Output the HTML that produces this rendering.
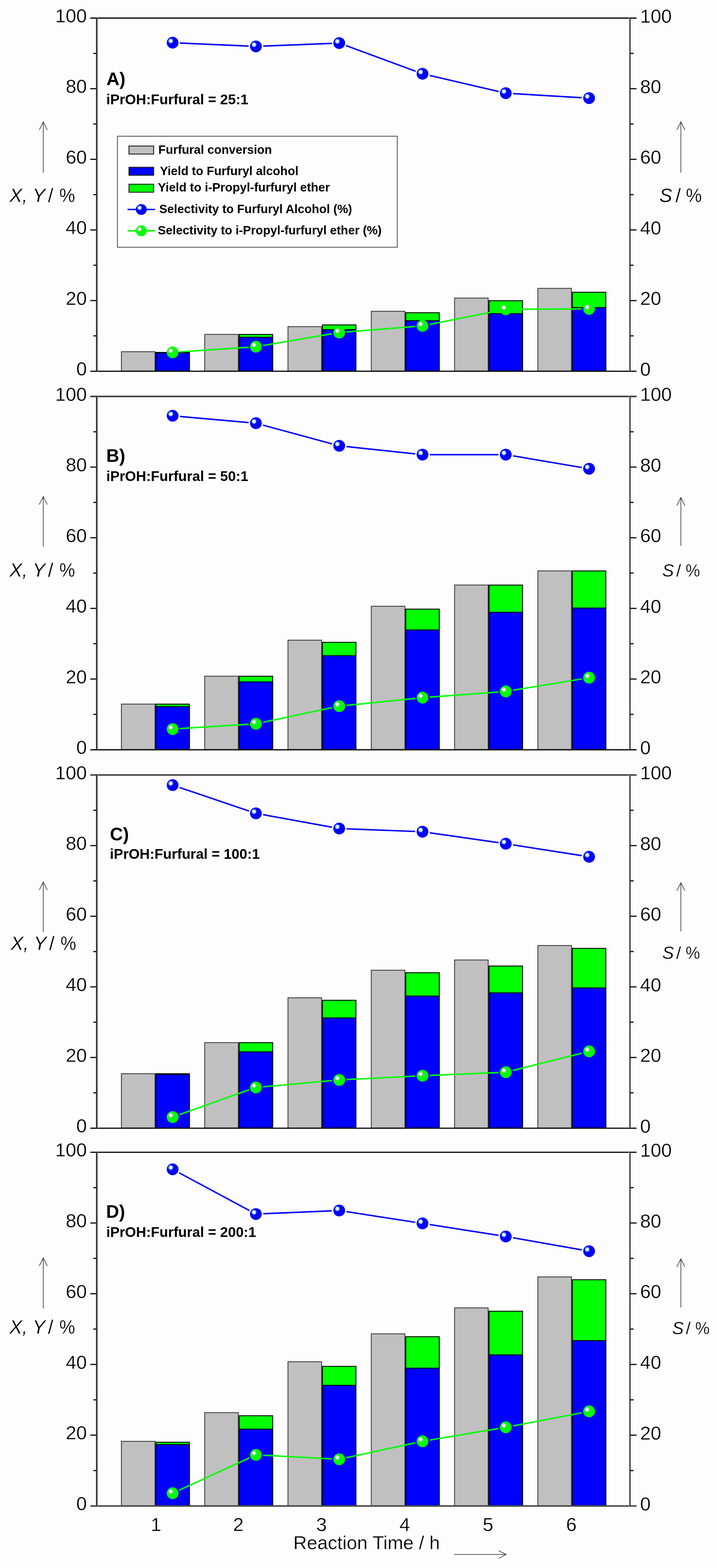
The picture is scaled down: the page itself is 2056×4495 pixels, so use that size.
<!DOCTYPE html>
<html lang="en">
<head>
<meta charset="utf-8">
<title>Furfural conversion, yields and selectivities vs reaction time</title>
<style>
html,body{margin:0;padding:0;background:#fdfdfd;}
body{width:2056px;height:4495px;overflow:hidden;}
svg{display:block;}
text{font-family:"Liberation Sans",sans-serif;fill:#000;}
.tk{font-size:54.5px;stroke:#fdfdfd;stroke-width:0.5px;}
.lg{font-size:34.6px;font-weight:bold;}
.tag{font-size:51.5px;font-weight:bold;}
.sub{font-size:40.4px;font-weight:bold;}
.axl{font-size:55px;stroke:#fdfdfd;stroke-width:0.5px;}
.it{font-style:italic;}
.ax{stroke:#101010;fill:none;}
.bar{stroke:#000;stroke-width:2.6;}
.bl{stroke:#0000ff;stroke-width:4.2;fill:none;}
.gl{stroke:#00ff00;stroke-width:4.2;fill:none;}
.arr{stroke:#444;stroke-width:2;fill:none;}
</style>
</head>
<body>
<svg width="2056" height="4495" viewBox="0 0 2056 4495">
<defs>
<radialGradient id="gb" cx="0.34" cy="0.35" r="0.23">
<stop offset="0" stop-color="#ffffff"/><stop offset="0.35" stop-color="#eefafa"/><stop offset="0.7" stop-color="#8cc4dc"/><stop offset="1" stop-color="#0000ff"/>
</radialGradient>
<radialGradient id="gg" cx="0.34" cy="0.35" r="0.23">
<stop offset="0" stop-color="#ffffff"/><stop offset="0.35" stop-color="#f2f2f2"/><stop offset="0.7" stop-color="#b4c4b4"/><stop offset="1" stop-color="#00ff00"/>
</radialGradient>
</defs>
<rect x="0" y="0" width="2056" height="4495" fill="#fdfdfd"/>

<g id="panel-A">
<rect x="348.1" y="1008.2" width="96.3" height="55.5" fill="#c0c0c0" stroke="#3a3a3a" stroke-width="2.4"/>
<rect class="bar" x="446.9" y="1010.3" width="96.1" height="53.4" fill="#00ff00"/>
<rect class="bar" x="446.9" y="1011.4" width="96.1" height="52.3" fill="#0000ff"/>
<rect x="587.0" y="958.6" width="96.3" height="105.1" fill="#c0c0c0" stroke="#3a3a3a" stroke-width="2.4"/>
<rect class="bar" x="685.8" y="958.7" width="96.1" height="105.0" fill="#00ff00"/>
<rect class="bar" x="685.8" y="966.8" width="96.1" height="96.9" fill="#0000ff"/>
<rect x="825.8" y="936.4" width="96.3" height="127.3" fill="#c0c0c0" stroke="#3a3a3a" stroke-width="2.4"/>
<rect class="bar" x="924.6" y="931.4" width="96.1" height="132.3" fill="#00ff00"/>
<rect class="bar" x="924.6" y="945.1" width="96.1" height="118.6" fill="#0000ff"/>
<rect x="1064.7" y="892.3" width="96.3" height="171.4" fill="#c0c0c0" stroke="#3a3a3a" stroke-width="2.4"/>
<rect class="bar" x="1163.5" y="896.5" width="96.1" height="167.2" fill="#00ff00"/>
<rect class="bar" x="1163.5" y="919.3" width="96.1" height="144.4" fill="#0000ff"/>
<rect x="1303.5" y="854.4" width="96.3" height="209.3" fill="#c0c0c0" stroke="#3a3a3a" stroke-width="2.4"/>
<rect class="bar" x="1402.3" y="862.1" width="96.1" height="201.6" fill="#00ff00"/>
<rect class="bar" x="1402.3" y="899.0" width="96.1" height="164.7" fill="#0000ff"/>
<rect x="1542.3" y="826.6" width="96.3" height="237.1" fill="#c0c0c0" stroke="#3a3a3a" stroke-width="2.4"/>
<rect class="bar" x="1641.1" y="837.8" width="96.1" height="225.9" fill="#00ff00"/>
<rect class="bar" x="1641.1" y="881.8" width="96.1" height="181.9" fill="#0000ff"/>
<line x1="259.0" y1="51.9" x2="1825.3" y2="51.9" stroke="#101010" stroke-width="3.6"/>
<line x1="259.0" y1="1064.3" x2="1825.3" y2="1064.3" stroke="#101010" stroke-width="3.6"/>
<line x1="279.4" y1="51.6" x2="279.4" y2="1063.7" stroke="#8a8a8a" stroke-width="3"/>
<line class="ax" x1="276.7" y1="51.6" x2="276.7" y2="1063.7" stroke-width="2.6"/>
<line x1="1804.5" y1="51.6" x2="1804.5" y2="1063.7" stroke="#c4c4c4" stroke-width="3"/>
<line class="ax" x1="1806.7" y1="51.6" x2="1806.7" y2="1063.7" stroke-width="2.6"/>
<line class="ax" x1="267.5" y1="962.8" x2="278.0" y2="962.8" stroke-width="3.4"/>
<line class="ax" x1="1806.3" y1="962.8" x2="1816.8" y2="962.8" stroke-width="3.4"/>
<line class="ax" x1="259.0" y1="861.6" x2="278.0" y2="861.6" stroke-width="3.4"/>
<line class="ax" x1="1806.3" y1="861.6" x2="1825.3" y2="861.6" stroke-width="3.4"/>
<line class="ax" x1="267.5" y1="760.4" x2="278.0" y2="760.4" stroke-width="3.4"/>
<line class="ax" x1="1806.3" y1="760.4" x2="1816.8" y2="760.4" stroke-width="3.4"/>
<line class="ax" x1="259.0" y1="659.2" x2="278.0" y2="659.2" stroke-width="3.4"/>
<line class="ax" x1="1806.3" y1="659.2" x2="1825.3" y2="659.2" stroke-width="3.4"/>
<line class="ax" x1="267.5" y1="558.0" x2="278.0" y2="558.0" stroke-width="3.4"/>
<line class="ax" x1="1806.3" y1="558.0" x2="1816.8" y2="558.0" stroke-width="3.4"/>
<line class="ax" x1="259.0" y1="456.7" x2="278.0" y2="456.7" stroke-width="3.4"/>
<line class="ax" x1="1806.3" y1="456.7" x2="1825.3" y2="456.7" stroke-width="3.4"/>
<line class="ax" x1="267.5" y1="355.5" x2="278.0" y2="355.5" stroke-width="3.4"/>
<line class="ax" x1="1806.3" y1="355.5" x2="1816.8" y2="355.5" stroke-width="3.4"/>
<line class="ax" x1="259.0" y1="254.3" x2="278.0" y2="254.3" stroke-width="3.4"/>
<line class="ax" x1="1806.3" y1="254.3" x2="1825.3" y2="254.3" stroke-width="3.4"/>
<line class="ax" x1="267.5" y1="153.1" x2="278.0" y2="153.1" stroke-width="3.4"/>
<line class="ax" x1="1806.3" y1="153.1" x2="1816.8" y2="153.1" stroke-width="3.4"/>
<text class="tk" x="249" y="1076.0" text-anchor="end">0</text>
<text class="tk" x="1835.5" y="1076.7">0</text>
<text class="tk" x="249" y="873.6" text-anchor="end">20</text>
<text class="tk" x="1835.5" y="874.3">20</text>
<text class="tk" x="249" y="671.2" text-anchor="end">40</text>
<text class="tk" x="1835.5" y="671.9">40</text>
<text class="tk" x="249" y="468.7" text-anchor="end">60</text>
<text class="tk" x="1835.5" y="469.4">60</text>
<text class="tk" x="249" y="266.3" text-anchor="end">80</text>
<text class="tk" x="1835.5" y="267.0">80</text>
<text class="tk" x="249" y="63.9" text-anchor="end">100</text>
<text class="tk" x="1835.5" y="64.6">100</text>
<line class="bl" x1="515.9" y1="123.4" x2="712.8" y2="132.1"/>
<line class="bl" x1="754.8" y1="132.2" x2="951.7" y2="124.3"/>
<line class="bl" x1="992.4" y1="130.7" x2="1191.8" y2="204.2"/>
<line class="bl" x1="1232.0" y1="216.3" x2="1429.9" y2="262.4"/>
<line class="bl" x1="1471.3" y1="268.4" x2="1668.2" y2="280.1"/>
<circle cx="495.0" cy="122.4" r="16.9" fill="url(#gb)"/>
<circle cx="733.8" cy="133.1" r="16.9" fill="url(#gb)"/>
<circle cx="972.7" cy="123.5" r="16.9" fill="url(#gb)"/>
<circle cx="1211.5" cy="211.5" r="16.9" fill="url(#gb)"/>
<circle cx="1450.3" cy="267.2" r="16.9" fill="url(#gb)"/>
<circle cx="1689.2" cy="281.3" r="16.9" fill="url(#gb)"/>
<line class="gl" x1="515.9" y1="1008.6" x2="712.8" y2="995.3"/>
<line class="gl" x1="754.5" y1="990.4" x2="951.9" y2="956.9"/>
<line class="gl" x1="993.6" y1="951.7" x2="1190.6" y2="935.8"/>
<line class="gl" x1="1232.1" y1="930.0" x2="1429.8" y2="890.7"/>
<line class="gl" x1="1471.3" y1="886.5" x2="1668.2" y2="885.7"/>
<circle cx="495.0" cy="1010.1" r="16.9" fill="url(#gg)"/>
<circle cx="733.8" cy="993.9" r="16.9" fill="url(#gg)"/>
<circle cx="972.7" cy="953.4" r="16.9" fill="url(#gg)"/>
<circle cx="1211.5" cy="934.2" r="16.9" fill="url(#gg)"/>
<circle cx="1450.3" cy="886.6" r="16.9" fill="url(#gg)"/>
<circle cx="1689.2" cy="885.6" r="16.9" fill="url(#gg)"/>
<text class="tag" x="305.3" y="244.4">A)</text>
<text class="sub" x="304.7" y="299.4">iPrOH:Furfural = 25:1</text>
<path class="arr" d="M124.0 495.2V349.6M112.5 372.6L124.0 349.6L135.5 372.6"/>
<path class="arr" d="M1952.4 494.7V349.2M1940.9 372.2L1952.4 349.2L1963.9 372.2"/>
<text class="axl" y="579.1"><tspan class="it" x="27.0">X, Y</tspan><tspan x="137.5">/</tspan><tspan x="170.2" textLength="45.0" lengthAdjust="spacingAndGlyphs">%</tspan></text>
<text class="axl" y="579.4" style="font-size:55px"><tspan class="it" x="1890.7">S</tspan><tspan x="1937.1">/</tspan><tspan x="1967.0" textLength="45.5" lengthAdjust="spacingAndGlyphs">%</tspan></text>
</g>
<g id="panel-B">
<rect x="348.1" y="2018.4" width="96.3" height="130.4" fill="#c0c0c0" stroke="#3a3a3a" stroke-width="2.4"/>
<rect class="bar" x="446.9" y="2018.5" width="96.1" height="130.3" fill="#00ff00"/>
<rect class="bar" x="446.9" y="2025.6" width="96.1" height="123.2" fill="#0000ff"/>
<rect x="587.0" y="1938.4" width="96.3" height="210.4" fill="#c0c0c0" stroke="#3a3a3a" stroke-width="2.4"/>
<rect class="bar" x="685.8" y="1938.5" width="96.1" height="210.3" fill="#00ff00"/>
<rect class="bar" x="685.8" y="1954.7" width="96.1" height="194.1" fill="#0000ff"/>
<rect x="825.8" y="1835.1" width="96.3" height="313.7" fill="#c0c0c0" stroke="#3a3a3a" stroke-width="2.4"/>
<rect class="bar" x="924.6" y="1841.3" width="96.1" height="307.5" fill="#00ff00"/>
<rect class="bar" x="924.6" y="1879.7" width="96.1" height="269.1" fill="#0000ff"/>
<rect x="1064.7" y="1737.9" width="96.3" height="410.9" fill="#c0c0c0" stroke="#3a3a3a" stroke-width="2.4"/>
<rect class="bar" x="1163.5" y="1746.1" width="96.1" height="402.7" fill="#00ff00"/>
<rect class="bar" x="1163.5" y="1805.8" width="96.1" height="343.0" fill="#0000ff"/>
<rect x="1303.5" y="1677.1" width="96.3" height="471.7" fill="#c0c0c0" stroke="#3a3a3a" stroke-width="2.4"/>
<rect class="bar" x="1402.3" y="1677.2" width="96.1" height="471.6" fill="#00ff00"/>
<rect class="bar" x="1402.3" y="1755.2" width="96.1" height="393.6" fill="#0000ff"/>
<rect x="1542.3" y="1636.6" width="96.3" height="512.2" fill="#c0c0c0" stroke="#3a3a3a" stroke-width="2.4"/>
<rect class="bar" x="1641.1" y="1636.7" width="96.1" height="512.1" fill="#00ff00"/>
<rect class="bar" x="1641.1" y="1743.0" width="96.1" height="405.8" fill="#0000ff"/>
<line x1="259.0" y1="1136.5" x2="1825.3" y2="1136.5" stroke="#3c3c3c" stroke-width="4.4"/>
<line x1="259.0" y1="2149.4" x2="1825.3" y2="2149.4" stroke="#101010" stroke-width="3.6"/>
<line x1="279.4" y1="1136.2" x2="279.4" y2="2148.8" stroke="#8a8a8a" stroke-width="3"/>
<line class="ax" x1="276.7" y1="1136.2" x2="276.7" y2="2148.8" stroke-width="2.6"/>
<line x1="1804.5" y1="1136.2" x2="1804.5" y2="2148.8" stroke="#c4c4c4" stroke-width="3"/>
<line class="ax" x1="1806.7" y1="1136.2" x2="1806.7" y2="2148.8" stroke-width="2.6"/>
<line class="ax" x1="267.5" y1="2047.8" x2="278.0" y2="2047.8" stroke-width="3.4"/>
<line class="ax" x1="1806.3" y1="2047.8" x2="1816.8" y2="2047.8" stroke-width="3.4"/>
<line class="ax" x1="259.0" y1="1946.6" x2="278.0" y2="1946.6" stroke-width="3.4"/>
<line class="ax" x1="1806.3" y1="1946.6" x2="1825.3" y2="1946.6" stroke-width="3.4"/>
<line class="ax" x1="267.5" y1="1845.3" x2="278.0" y2="1845.3" stroke-width="3.4"/>
<line class="ax" x1="1806.3" y1="1845.3" x2="1816.8" y2="1845.3" stroke-width="3.4"/>
<line class="ax" x1="259.0" y1="1744.1" x2="278.0" y2="1744.1" stroke-width="3.4"/>
<line class="ax" x1="1806.3" y1="1744.1" x2="1825.3" y2="1744.1" stroke-width="3.4"/>
<line class="ax" x1="267.5" y1="1642.8" x2="278.0" y2="1642.8" stroke-width="3.4"/>
<line class="ax" x1="1806.3" y1="1642.8" x2="1816.8" y2="1642.8" stroke-width="3.4"/>
<line class="ax" x1="259.0" y1="1541.5" x2="278.0" y2="1541.5" stroke-width="3.4"/>
<line class="ax" x1="1806.3" y1="1541.5" x2="1825.3" y2="1541.5" stroke-width="3.4"/>
<line class="ax" x1="267.5" y1="1440.3" x2="278.0" y2="1440.3" stroke-width="3.4"/>
<line class="ax" x1="1806.3" y1="1440.3" x2="1816.8" y2="1440.3" stroke-width="3.4"/>
<line class="ax" x1="259.0" y1="1339.0" x2="278.0" y2="1339.0" stroke-width="3.4"/>
<line class="ax" x1="1806.3" y1="1339.0" x2="1825.3" y2="1339.0" stroke-width="3.4"/>
<line class="ax" x1="267.5" y1="1237.8" x2="278.0" y2="1237.8" stroke-width="3.4"/>
<line class="ax" x1="1806.3" y1="1237.8" x2="1816.8" y2="1237.8" stroke-width="3.4"/>
<text class="tk" x="249" y="2161.1" text-anchor="end">0</text>
<text class="tk" x="1835.5" y="2161.8">0</text>
<text class="tk" x="249" y="1958.6" text-anchor="end">20</text>
<text class="tk" x="1835.5" y="1959.3">20</text>
<text class="tk" x="249" y="1756.1" text-anchor="end">40</text>
<text class="tk" x="1835.5" y="1756.8">40</text>
<text class="tk" x="249" y="1553.5" text-anchor="end">60</text>
<text class="tk" x="1835.5" y="1554.2">60</text>
<text class="tk" x="249" y="1351.0" text-anchor="end">80</text>
<text class="tk" x="1835.5" y="1351.7">80</text>
<text class="tk" x="249" y="1148.5" text-anchor="end">100</text>
<text class="tk" x="1835.5" y="1149.2">100</text>
<line class="bl" x1="515.9" y1="1193.8" x2="712.9" y2="1211.3"/>
<line class="bl" x1="754.1" y1="1218.7" x2="952.4" y2="1272.5"/>
<line class="bl" x1="993.5" y1="1280.2" x2="1190.6" y2="1301.1"/>
<line class="bl" x1="1232.5" y1="1303.3" x2="1429.3" y2="1303.3"/>
<line class="bl" x1="1471.1" y1="1306.8" x2="1668.5" y2="1340.3"/>
<circle cx="495.0" cy="1191.9" r="16.9" fill="url(#gb)"/>
<circle cx="733.8" cy="1213.2" r="16.9" fill="url(#gb)"/>
<circle cx="972.7" cy="1278.0" r="16.9" fill="url(#gb)"/>
<circle cx="1211.5" cy="1303.3" r="16.9" fill="url(#gb)"/>
<circle cx="1450.3" cy="1303.3" r="16.9" fill="url(#gb)"/>
<circle cx="1689.2" cy="1343.8" r="16.9" fill="url(#gb)"/>
<line class="gl" x1="515.9" y1="2088.7" x2="712.8" y2="2076.2"/>
<line class="gl" x1="754.3" y1="2070.5" x2="952.1" y2="2028.6"/>
<line class="gl" x1="993.5" y1="2022.1" x2="1190.6" y2="2002.1"/>
<line class="gl" x1="1232.4" y1="1998.4" x2="1429.4" y2="1983.8"/>
<line class="gl" x1="1471.1" y1="1978.8" x2="1668.5" y2="1946.2"/>
<circle cx="495.0" cy="2090.1" r="16.9" fill="url(#gg)"/>
<circle cx="733.8" cy="2074.9" r="16.9" fill="url(#gg)"/>
<circle cx="972.7" cy="2024.3" r="16.9" fill="url(#gg)"/>
<circle cx="1211.5" cy="1999.9" r="16.9" fill="url(#gg)"/>
<circle cx="1450.3" cy="1982.2" r="16.9" fill="url(#gg)"/>
<circle cx="1689.2" cy="1942.7" r="16.9" fill="url(#gg)"/>
<text class="tag" x="304.8" y="1324.4">B)</text>
<text class="sub" x="304.7" y="1379.4">iPrOH:Furfural = 50:1</text>
<path class="arr" d="M124.0 1566.8V1423.4M112.5 1446.4L124.0 1423.4L135.5 1446.4"/>
<path class="arr" d="M1952.4 1564.7V1426.2M1940.9 1449.2L1952.4 1426.2L1963.9 1449.2"/>
<text class="axl" y="1653.3"><tspan class="it" x="27.0">X, Y</tspan><tspan x="137.5">/</tspan><tspan x="170.2" textLength="45.0" lengthAdjust="spacingAndGlyphs">%</tspan></text>
<text class="axl" y="1653.4" style="font-size:50px"><tspan class="it" x="1898.9">S</tspan><tspan x="1938.9">/</tspan><tspan x="1965.9" textLength="41.3" lengthAdjust="spacingAndGlyphs">%</tspan></text>
</g>
<g id="panel-C">
<rect x="348.1" y="3078.0" width="96.3" height="155.7" fill="#c0c0c0" stroke="#3a3a3a" stroke-width="2.4"/>
<rect class="bar" x="446.9" y="3078.1" width="96.1" height="155.6" fill="#00ff00"/>
<rect class="bar" x="446.9" y="3080.1" width="96.1" height="153.6" fill="#0000ff"/>
<rect x="587.0" y="2988.9" width="96.3" height="244.8" fill="#c0c0c0" stroke="#3a3a3a" stroke-width="2.4"/>
<rect class="bar" x="685.8" y="2989.0" width="96.1" height="244.7" fill="#00ff00"/>
<rect class="bar" x="685.8" y="3015.3" width="96.1" height="218.4" fill="#0000ff"/>
<rect x="825.8" y="2860.3" width="96.3" height="373.4" fill="#c0c0c0" stroke="#3a3a3a" stroke-width="2.4"/>
<rect class="bar" x="924.6" y="2867.5" width="96.1" height="366.2" fill="#00ff00"/>
<rect class="bar" x="924.6" y="2918.1" width="96.1" height="315.6" fill="#0000ff"/>
<rect x="1064.7" y="2781.3" width="96.3" height="452.4" fill="#c0c0c0" stroke="#3a3a3a" stroke-width="2.4"/>
<rect class="bar" x="1163.5" y="2788.5" width="96.1" height="445.2" fill="#00ff00"/>
<rect class="bar" x="1163.5" y="2855.4" width="96.1" height="378.3" fill="#0000ff"/>
<rect x="1303.5" y="2752.0" width="96.3" height="481.7" fill="#c0c0c0" stroke="#3a3a3a" stroke-width="2.4"/>
<rect class="bar" x="1402.3" y="2769.3" width="96.1" height="464.4" fill="#00ff00"/>
<rect class="bar" x="1402.3" y="2846.2" width="96.1" height="387.5" fill="#0000ff"/>
<rect x="1542.3" y="2710.5" width="96.3" height="523.2" fill="#c0c0c0" stroke="#3a3a3a" stroke-width="2.4"/>
<rect class="bar" x="1641.1" y="2718.7" width="96.1" height="515.0" fill="#00ff00"/>
<rect class="bar" x="1641.1" y="2832.1" width="96.1" height="401.6" fill="#0000ff"/>
<line x1="259.0" y1="2221.6000000000004" x2="1825.3" y2="2221.6000000000004" stroke="#3c3c3c" stroke-width="4.4"/>
<line x1="259.0" y1="3234.2999999999997" x2="1825.3" y2="3234.2999999999997" stroke="#101010" stroke-width="3.6"/>
<line x1="279.4" y1="2221.3" x2="279.4" y2="3233.7" stroke="#8a8a8a" stroke-width="3"/>
<line class="ax" x1="276.7" y1="2221.3" x2="276.7" y2="3233.7" stroke-width="2.6"/>
<line x1="1804.5" y1="2221.3" x2="1804.5" y2="3233.7" stroke="#c4c4c4" stroke-width="3"/>
<line class="ax" x1="1806.7" y1="2221.3" x2="1806.7" y2="3233.7" stroke-width="2.6"/>
<line class="ax" x1="267.5" y1="3132.8" x2="278.0" y2="3132.8" stroke-width="3.4"/>
<line class="ax" x1="1806.3" y1="3132.8" x2="1816.8" y2="3132.8" stroke-width="3.4"/>
<line class="ax" x1="259.0" y1="3031.5" x2="278.0" y2="3031.5" stroke-width="3.4"/>
<line class="ax" x1="1806.3" y1="3031.5" x2="1825.3" y2="3031.5" stroke-width="3.4"/>
<line class="ax" x1="267.5" y1="2930.3" x2="278.0" y2="2930.3" stroke-width="3.4"/>
<line class="ax" x1="1806.3" y1="2930.3" x2="1816.8" y2="2930.3" stroke-width="3.4"/>
<line class="ax" x1="259.0" y1="2829.0" x2="278.0" y2="2829.0" stroke-width="3.4"/>
<line class="ax" x1="1806.3" y1="2829.0" x2="1825.3" y2="2829.0" stroke-width="3.4"/>
<line class="ax" x1="267.5" y1="2727.8" x2="278.0" y2="2727.8" stroke-width="3.4"/>
<line class="ax" x1="1806.3" y1="2727.8" x2="1816.8" y2="2727.8" stroke-width="3.4"/>
<line class="ax" x1="259.0" y1="2626.6" x2="278.0" y2="2626.6" stroke-width="3.4"/>
<line class="ax" x1="1806.3" y1="2626.6" x2="1825.3" y2="2626.6" stroke-width="3.4"/>
<line class="ax" x1="267.5" y1="2525.3" x2="278.0" y2="2525.3" stroke-width="3.4"/>
<line class="ax" x1="1806.3" y1="2525.3" x2="1816.8" y2="2525.3" stroke-width="3.4"/>
<line class="ax" x1="259.0" y1="2424.1" x2="278.0" y2="2424.1" stroke-width="3.4"/>
<line class="ax" x1="1806.3" y1="2424.1" x2="1825.3" y2="2424.1" stroke-width="3.4"/>
<line class="ax" x1="267.5" y1="2322.8" x2="278.0" y2="2322.8" stroke-width="3.4"/>
<line class="ax" x1="1806.3" y1="2322.8" x2="1816.8" y2="2322.8" stroke-width="3.4"/>
<text class="tk" x="249" y="3246.0" text-anchor="end">0</text>
<text class="tk" x="1835.5" y="3246.7">0</text>
<text class="tk" x="249" y="3043.5" text-anchor="end">20</text>
<text class="tk" x="1835.5" y="3044.2">20</text>
<text class="tk" x="249" y="2841.0" text-anchor="end">40</text>
<text class="tk" x="1835.5" y="2841.7">40</text>
<text class="tk" x="249" y="2638.6" text-anchor="end">60</text>
<text class="tk" x="1835.5" y="2639.3">60</text>
<text class="tk" x="249" y="2436.1" text-anchor="end">80</text>
<text class="tk" x="1835.5" y="2436.8">80</text>
<text class="tk" x="249" y="2233.6" text-anchor="end">100</text>
<text class="tk" x="1835.5" y="2234.3">100</text>
<line class="bl" x1="514.8" y1="2257.4" x2="713.9" y2="2324.9"/>
<line class="bl" x1="754.5" y1="2335.4" x2="952.0" y2="2371.4"/>
<line class="bl" x1="993.6" y1="2376.0" x2="1190.5" y2="2383.5"/>
<line class="bl" x1="1232.3" y1="2387.3" x2="1429.6" y2="2415.7"/>
<line class="bl" x1="1471.1" y1="2422.0" x2="1668.5" y2="2452.9"/>
<circle cx="495.0" cy="2250.7" r="16.9" fill="url(#gb)"/>
<circle cx="733.8" cy="2331.7" r="16.9" fill="url(#gb)"/>
<circle cx="972.7" cy="2375.2" r="16.9" fill="url(#gb)"/>
<circle cx="1211.5" cy="2384.3" r="16.9" fill="url(#gb)"/>
<circle cx="1450.3" cy="2418.7" r="16.9" fill="url(#gb)"/>
<circle cx="1689.2" cy="2456.2" r="16.9" fill="url(#gb)"/>
<line class="gl" x1="514.7" y1="3195.3" x2="714.0" y2="3124.3"/>
<line class="gl" x1="754.7" y1="3115.4" x2="951.7" y2="3097.9"/>
<line class="gl" x1="993.6" y1="3094.9" x2="1190.5" y2="3084.9"/>
<line class="gl" x1="1232.5" y1="3083.0" x2="1429.4" y2="3074.6"/>
<line class="gl" x1="1470.7" y1="3068.6" x2="1668.8" y2="3019.1"/>
<circle cx="495.0" cy="3202.3" r="16.9" fill="url(#gg)"/>
<circle cx="733.8" cy="3117.3" r="16.9" fill="url(#gg)"/>
<circle cx="972.7" cy="3096.0" r="16.9" fill="url(#gg)"/>
<circle cx="1211.5" cy="3083.9" r="16.9" fill="url(#gg)"/>
<circle cx="1450.3" cy="3073.7" r="16.9" fill="url(#gg)"/>
<circle cx="1689.2" cy="3014.0" r="16.9" fill="url(#gg)"/>
<text class="tag" x="315.2" y="2408.5">C)</text>
<text class="sub" x="315.0" y="2462.2">iPrOH:Furfural = 100:1</text>
<path class="arr" d="M124.0 2671.9V2528.5M112.5 2551.5L124.0 2528.5L135.5 2551.5"/>
<path class="arr" d="M1952.4 2670.2V2530.5M1940.9 2553.5L1952.4 2530.5L1963.9 2553.5"/>
<text class="axl" y="2722.8"><tspan class="it" x="30.4">X, Y</tspan><tspan x="140.9">/</tspan><tspan x="173.6" textLength="45.0" lengthAdjust="spacingAndGlyphs">%</tspan></text>
<text class="axl" y="2749.3" style="font-size:50px"><tspan class="it" x="1898.9">S</tspan><tspan x="1938.9">/</tspan><tspan x="1965.9" textLength="41.3" lengthAdjust="spacingAndGlyphs">%</tspan></text>
</g>
<g id="panel-D">
<rect x="348.1" y="4131.9" width="96.3" height="184.8" fill="#c0c0c0" stroke="#3a3a3a" stroke-width="2.4"/>
<rect class="bar" x="446.9" y="4134.5" width="96.1" height="182.2" fill="#00ff00"/>
<rect class="bar" x="446.9" y="4141.1" width="96.1" height="175.6" fill="#0000ff"/>
<rect x="587.0" y="4049.7" width="96.3" height="267.0" fill="#c0c0c0" stroke="#3a3a3a" stroke-width="2.4"/>
<rect class="bar" x="685.8" y="4058.5" width="96.1" height="258.2" fill="#00ff00"/>
<rect class="bar" x="685.8" y="4097.0" width="96.1" height="219.7" fill="#0000ff"/>
<rect x="825.8" y="3903.8" width="96.3" height="412.9" fill="#c0c0c0" stroke="#3a3a3a" stroke-width="2.4"/>
<rect class="bar" x="924.6" y="3917.0" width="96.1" height="399.7" fill="#00ff00"/>
<rect class="bar" x="924.6" y="3971.3" width="96.1" height="345.4" fill="#0000ff"/>
<rect x="1064.7" y="3823.7" width="96.3" height="493.0" fill="#c0c0c0" stroke="#3a3a3a" stroke-width="2.4"/>
<rect class="bar" x="1163.5" y="3831.9" width="96.1" height="484.8" fill="#00ff00"/>
<rect class="bar" x="1163.5" y="3922.1" width="96.1" height="394.6" fill="#0000ff"/>
<rect x="1303.5" y="3749.2" width="96.3" height="567.5" fill="#c0c0c0" stroke="#3a3a3a" stroke-width="2.4"/>
<rect class="bar" x="1402.3" y="3758.9" width="96.1" height="557.8" fill="#00ff00"/>
<rect class="bar" x="1402.3" y="3884.1" width="96.1" height="432.6" fill="#0000ff"/>
<rect x="1542.3" y="3660.5" width="96.3" height="656.2" fill="#c0c0c0" stroke="#3a3a3a" stroke-width="2.4"/>
<rect class="bar" x="1641.1" y="3668.7" width="96.1" height="648.0" fill="#00ff00"/>
<rect class="bar" x="1641.1" y="3843.0" width="96.1" height="473.7" fill="#0000ff"/>
<line x1="259.0" y1="3303.2000000000003" x2="1825.3" y2="3303.2000000000003" stroke="#101010" stroke-width="3.6"/>
<line x1="259.0" y1="4317.3" x2="1825.3" y2="4317.3" stroke="#4a4a4a" stroke-width="4.6"/>
<line x1="279.4" y1="3302.9" x2="279.4" y2="4316.7" stroke="#8a8a8a" stroke-width="3"/>
<line class="ax" x1="276.7" y1="3302.9" x2="276.7" y2="4316.7" stroke-width="2.6"/>
<line x1="1804.5" y1="3302.9" x2="1804.5" y2="4316.7" stroke="#c4c4c4" stroke-width="3"/>
<line class="ax" x1="1806.7" y1="3302.9" x2="1806.7" y2="4316.7" stroke-width="2.6"/>
<line class="ax" x1="267.5" y1="4215.6" x2="278.0" y2="4215.6" stroke-width="3.4"/>
<line class="ax" x1="1806.3" y1="4215.6" x2="1816.8" y2="4215.6" stroke-width="3.4"/>
<line class="ax" x1="259.0" y1="4114.2" x2="278.0" y2="4114.2" stroke-width="3.4"/>
<line class="ax" x1="1806.3" y1="4114.2" x2="1825.3" y2="4114.2" stroke-width="3.4"/>
<line class="ax" x1="267.5" y1="4012.9" x2="278.0" y2="4012.9" stroke-width="3.4"/>
<line class="ax" x1="1806.3" y1="4012.9" x2="1816.8" y2="4012.9" stroke-width="3.4"/>
<line class="ax" x1="259.0" y1="3911.5" x2="278.0" y2="3911.5" stroke-width="3.4"/>
<line class="ax" x1="1806.3" y1="3911.5" x2="1825.3" y2="3911.5" stroke-width="3.4"/>
<line class="ax" x1="267.5" y1="3810.1" x2="278.0" y2="3810.1" stroke-width="3.4"/>
<line class="ax" x1="1806.3" y1="3810.1" x2="1816.8" y2="3810.1" stroke-width="3.4"/>
<line class="ax" x1="259.0" y1="3708.7" x2="278.0" y2="3708.7" stroke-width="3.4"/>
<line class="ax" x1="1806.3" y1="3708.7" x2="1825.3" y2="3708.7" stroke-width="3.4"/>
<line class="ax" x1="267.5" y1="3607.3" x2="278.0" y2="3607.3" stroke-width="3.4"/>
<line class="ax" x1="1806.3" y1="3607.3" x2="1816.8" y2="3607.3" stroke-width="3.4"/>
<line class="ax" x1="259.0" y1="3506.0" x2="278.0" y2="3506.0" stroke-width="3.4"/>
<line class="ax" x1="1806.3" y1="3506.0" x2="1825.3" y2="3506.0" stroke-width="3.4"/>
<line class="ax" x1="267.5" y1="3404.6" x2="278.0" y2="3404.6" stroke-width="3.4"/>
<line class="ax" x1="1806.3" y1="3404.6" x2="1816.8" y2="3404.6" stroke-width="3.4"/>
<text class="tk" x="249" y="4329.0" text-anchor="end">0</text>
<text class="tk" x="1835.5" y="4329.7">0</text>
<text class="tk" x="249" y="4126.2" text-anchor="end">20</text>
<text class="tk" x="1835.5" y="4126.9">20</text>
<text class="tk" x="249" y="3923.5" text-anchor="end">40</text>
<text class="tk" x="1835.5" y="3924.2">40</text>
<text class="tk" x="249" y="3720.7" text-anchor="end">60</text>
<text class="tk" x="1835.5" y="3721.4">60</text>
<text class="tk" x="249" y="3518.0" text-anchor="end">80</text>
<text class="tk" x="1835.5" y="3518.7">80</text>
<text class="tk" x="249" y="3315.2" text-anchor="end">100</text>
<text class="tk" x="1835.5" y="3315.9">100</text>
<line class="bl" x1="513.5" y1="3362.0" x2="715.3" y2="3470.4"/>
<line class="bl" x1="754.8" y1="3479.4" x2="951.7" y2="3471.1"/>
<line class="bl" x1="993.4" y1="3473.4" x2="1190.7" y2="3504.0"/>
<line class="bl" x1="1232.2" y1="3510.4" x2="1429.6" y2="3541.4"/>
<line class="bl" x1="1471.0" y1="3548.3" x2="1668.5" y2="3583.1"/>
<circle cx="495.0" cy="3352.1" r="16.9" fill="url(#gb)"/>
<circle cx="733.8" cy="3480.3" r="16.9" fill="url(#gb)"/>
<circle cx="972.7" cy="3470.2" r="16.9" fill="url(#gb)"/>
<circle cx="1211.5" cy="3507.2" r="16.9" fill="url(#gb)"/>
<circle cx="1450.3" cy="3544.7" r="16.9" fill="url(#gb)"/>
<circle cx="1689.2" cy="3586.8" r="16.9" fill="url(#gb)"/>
<line class="gl" x1="514.0" y1="4271.9" x2="714.7" y2="4179.5"/>
<line class="gl" x1="754.8" y1="4171.8" x2="951.7" y2="4182.3"/>
<line class="gl" x1="993.2" y1="4178.9" x2="1191.0" y2="4136.1"/>
<line class="gl" x1="1232.2" y1="4128.2" x2="1429.6" y2="4095.1"/>
<line class="gl" x1="1471.0" y1="4087.7" x2="1668.6" y2="4050.0"/>
<circle cx="495.0" cy="4280.7" r="16.9" fill="url(#gg)"/>
<circle cx="733.8" cy="4170.7" r="16.9" fill="url(#gg)"/>
<circle cx="972.7" cy="4183.4" r="16.9" fill="url(#gg)"/>
<circle cx="1211.5" cy="4131.7" r="16.9" fill="url(#gg)"/>
<circle cx="1450.3" cy="4091.6" r="16.9" fill="url(#gg)"/>
<circle cx="1689.2" cy="4046.0" r="16.9" fill="url(#gg)"/>
<text class="tag" x="304.3" y="3491.3">D)</text>
<text class="sub" x="304.7" y="3545.5">iPrOH:Furfural = 200:1</text>
<path class="arr" d="M124.0 3750.8V3606.2M112.5 3629.2L124.0 3606.2L135.5 3629.2"/>
<path class="arr" d="M1952.4 3748.4V3608.7M1940.9 3631.7L1952.4 3608.7L1963.9 3631.7"/>
<text class="axl" y="3823.2"><tspan class="it" x="27.0">X, Y</tspan><tspan x="137.5">/</tspan><tspan x="170.2" textLength="45.0" lengthAdjust="spacingAndGlyphs">%</tspan></text>
<text class="axl" y="3825.1" style="font-size:50px"><tspan class="it" x="1927.2">S</tspan><tspan x="1966.5">/</tspan><tspan x="1993.5" textLength="41.3" lengthAdjust="spacingAndGlyphs">%</tspan></text>
</g>
<g id="legend">
<rect x="336.8" y="390.6" width="802.3" height="318.2" fill="#fdfdfd" stroke="#555" stroke-width="2.4"/>
<rect x="369.8" y="418.59999999999997" width="70.8" height="23" fill="#c0c0c0" stroke="#222" stroke-width="2.6"/>
<rect x="369.8" y="479.5" width="70.8" height="23" fill="#0000ff" stroke="#222" stroke-width="2.6"/>
<rect x="369.8" y="528.1" width="70.8" height="23" fill="#00ff00" stroke="#222" stroke-width="2.6"/>
<line class="bl" x1="365.6" y1="600.5" x2="444.4" y2="600.5"/>
<circle cx="405.2" cy="600.5" r="15.6" fill="url(#gb)"/>
<line class="gl" x1="365.6" y1="661.7" x2="444.4" y2="661.7"/>
<circle cx="405.2" cy="661.7" r="15.6" fill="url(#gg)"/>
<text class="lg" x="454.0" y="441" style="font-size:34.7px">Furfural conversion</text>
<text class="lg" x="458.5" y="501.9" style="font-size:34.85px">Yield to Furfuryl alcohol</text>
<text class="lg" x="452.8" y="549.3" style="font-size:34.9px">Yield to i-Propyl-furfuryl ether</text>
<text class="lg" x="456.5" y="611" style="font-size:34.65px">Selectivity to Furfuryl Alcohol (%)</text>
<text class="lg" x="452.5" y="671.8" style="font-size:34.6px">Selectivity to i-Propyl-furfuryl ether (%)</text>
</g>
<g id="x-axis">
<text class="tk" x="447.5" y="4389" text-anchor="middle">1</text>
<text class="tk" x="683.4" y="4389" text-anchor="middle">2</text>
<text class="tk" x="921.8" y="4389" text-anchor="middle">3</text>
<text class="tk" x="1160.7" y="4389" text-anchor="middle">4</text>
<text class="tk" x="1399.5" y="4389" text-anchor="middle">5</text>
<text class="tk" x="1638.3" y="4389" text-anchor="middle">6</text>
<text class="axl" x="841" y="4441.4" style="font-size:54px">Reaction Time / h</text>
<path class="arr" d="M1302 4456.3H1451.5M1430 4445.3L1451.5 4456.3L1430 4467.3"/>
</g>
</svg>
</body>
</html>
